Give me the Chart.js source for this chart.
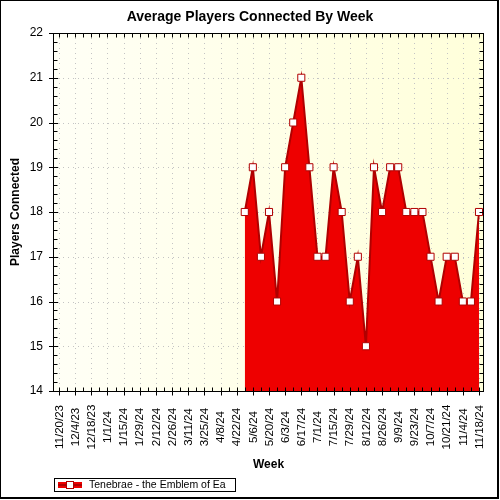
<!DOCTYPE html>
<html><head><meta charset="utf-8">
<script src="https://cdn.jsdelivr.net/npm/chart.js@4.4.1/dist/chart.umd.min.js"></script>
<style>html,body{margin:0;padding:0;background:#fff}canvas{display:block}</style>
</head><body>
<canvas id="c" width="500" height="500"></canvas>
<script>
const chartTitle = 'Average Players Connected By Week';
const xTitle = 'Week';
const yTitle = 'Players Connected';
const seriesName = 'Tenebrae - the Emblem of Ea';
const weeks = ['11/20/23','11/27/23','12/4/23','12/11/23','12/18/23','12/25/23','1/1/24','1/8/24','1/15/24','1/22/24','1/29/24','2/5/24','2/12/24','2/19/24','2/26/24','3/4/24','3/11/24','3/18/24','3/25/24','4/1/24','4/8/24','4/15/24','4/22/24','4/29/24','5/6/24','5/13/24','5/20/24','5/27/24','6/3/24','6/10/24','6/17/24','6/24/24','7/1/24','7/8/24','7/15/24','7/22/24','7/29/24','8/5/24','8/12/24','8/19/24','8/26/24','9/2/24','9/9/24','9/16/24','9/23/24','9/30/24','10/7/24','10/14/24','10/21/24','10/28/24','11/4/24','11/11/24','11/18/24'];
const players = [null,null,null,null,null,null,null,null,null,null,null,null,null,null,null,null,null,null,null,null,null,null,null,
  18,19,17,18,16,19,20,21,19,17,17,19,18,16,17,15,19,18,19,19,18,18,18,17,16,17,17,16,16,18];
const yMin = 14, yMax = 22;

const FONT = "Arial, 'Liberation Sans', sans-serif";
function seg(ctx,x1,y1,x2,y2){ctx.beginPath();ctx.moveTo(x1,y1);ctx.lineTo(x2,y2);ctx.stroke();}

const decor = {
  id: 'decor',
  beforeDraw(chart) {
    const {ctx, chartArea: a} = chart;
    const xs = chart.scales.x, ys = chart.scales.y;
    ctx.save();
    ctx.fillStyle = '#fff'; ctx.fillRect(0,0,chart.width,chart.height);
    const g = ctx.createLinearGradient(a.left,0,a.right,0);
    g.addColorStop(0,'#FFFFF6'); g.addColorStop(1,'#FFFFDA');
    ctx.fillStyle = g; ctx.fillRect(a.left,a.top,a.right-a.left,a.bottom-a.top);
    ctx.strokeStyle = '#C4C4C4'; ctx.lineWidth = 1; ctx.setLineDash([1,4]);
    for (let v = yMin+1; v < yMax; v++) {
      const y = Math.round(ys.getPixelForValue(v))+0.5; seg(ctx,a.left,y,a.right,y);
    }
    weeks.forEach((w,i)=>{ if(i%2===0){ const x=Math.round(xs.getPixelForValue(i))+0.5; seg(ctx,x,a.top,x,a.bottom);} });
    ctx.restore();
  },
  afterDatasetsDraw(chart) {
    const {ctx, chartArea: a} = chart;
    const xs = chart.scales.x, ys = chart.scales.y;
    ctx.save();
    ctx.strokeStyle = '#000'; ctx.lineWidth = 1; ctx.setLineDash([]);
    const L = 53.5, R = 483.5, T = 33.5, B = 391.5;
    ctx.strokeRect(L, T, R-L, B-T);
    for (let k = 0; k <= (yMax-yMin)*5; k++) {
      const v = yMin + k/5;
      const y = Math.round(ys.getPixelForValue(v))+0.5;
      if (k%5===0) seg(ctx,49,y,58,y); else seg(ctx,L,y,L+4,y);
      seg(ctx,R-4,y,R,y);
    }
    weeks.forEach((w,i)=>{
      const x = Math.round(xs.getPixelForValue(i))+0.5;
      if (i%2===0) seg(ctx,x,B-4,x,B+4); else seg(ctx,x,B-4,x,B);
      seg(ctx,x,T,x,T+4);
    });
    ctx.restore();
  },
  afterDraw(chart) {
    const {ctx} = chart;
    const xs = chart.scales.x;
    ctx.save();
    ctx.fillStyle = '#000';
    ctx.font = 'bold 14px ' + FONT; ctx.textAlign = 'center'; ctx.textBaseline = 'middle';
    ctx.fillText(chartTitle, 250, 17);
    ctx.font = '11.5px ' + FONT;
    weeks.forEach((w,i)=>{
      if (i%2!==0) return;
      const x = xs.getPixelForValue(i);
      ctx.save(); ctx.translate(x+0.5, 427); ctx.rotate(-Math.PI/2);
      ctx.textAlign='center'; ctx.textBaseline='middle'; ctx.fillText(w,0,0); ctx.restore();
    });
    // legend
    ctx.strokeStyle = '#000'; ctx.lineWidth = 1;
    ctx.strokeRect(54.5, 478.5, 181, 13);
    ctx.fillStyle = '#EE0000'; ctx.fillRect(58, 482, 24, 6);
    ctx.fillStyle = '#B00000'; ctx.fillRect(58, 484, 24, 2);
    ctx.fillStyle = '#fff'; ctx.fillRect(67, 482, 6, 6);
    ctx.strokeStyle = '#B00000'; ctx.strokeRect(66.5, 481.5, 7, 7);
    ctx.fillStyle = '#000'; ctx.font = '10.5px ' + FONT; ctx.textAlign='left'; ctx.textBaseline='middle';
    ctx.fillText(seriesName, 89, 485.5);
    // outer border
    ctx.fillRect(0,0,499,1); ctx.fillRect(0,0,1,499);
    ctx.fillRect(497,0,2,499); ctx.fillRect(0,497,499,2);
    ctx.restore();
  }
};

new Chart(document.getElementById('c'), {
  type: 'line',
  data: {
    datasets: [{
      label: seriesName,
      data: players.map((v,i)=>({x:i, y:v})),
      borderColor: '#B00000', borderWidth: 2,
      backgroundColor: '#EE0000', fill: 'start', tension: 0,
      pointStyle: 'rect', pointRadius: 5, pointBackgroundColor: '#fff',
      pointBorderColor: '#B00000', pointBorderWidth: 1, spanGaps: false
    }]
  },
  options: {
    responsive: false, animation: false, devicePixelRatio: 1,
    layout: { padding: { left: 0, right: 16, top: 33, bottom: 24 } },
    plugins: { legend: { display: false }, title: { display: false }, tooltip: { enabled: false } },
    scales: {
      x: {
        type: 'linear', bounds: 'data', min: -0.743, max: 52.62,
        ticks: { display: false }, grid: { display: false, drawTicks: false }, border: { display: false },
        title: { display: true, text: xTitle, color: '#000', font: { family: FONT, size: 12, weight: 'bold' }, padding: { top: 0, bottom: 4 } },
        afterFit(s) { s.height = 85; }
      },
      y: {
        min: yMin, max: yMax,
        ticks: { stepSize: 1, padding: 10, color: '#000', font: { family: FONT, size: 12 } },
        grid: { display: false, drawTicks: false }, border: { display: false },
        title: { display: true, text: yTitle, color: '#000', font: { family: FONT, size: 12, weight: 'bold' }, padding: { top: 8, bottom: 0 } },
        afterFit(s) { s.width = 53; }
      }
    }
  },
  plugins: [decor]
});
</script>
</body></html>
